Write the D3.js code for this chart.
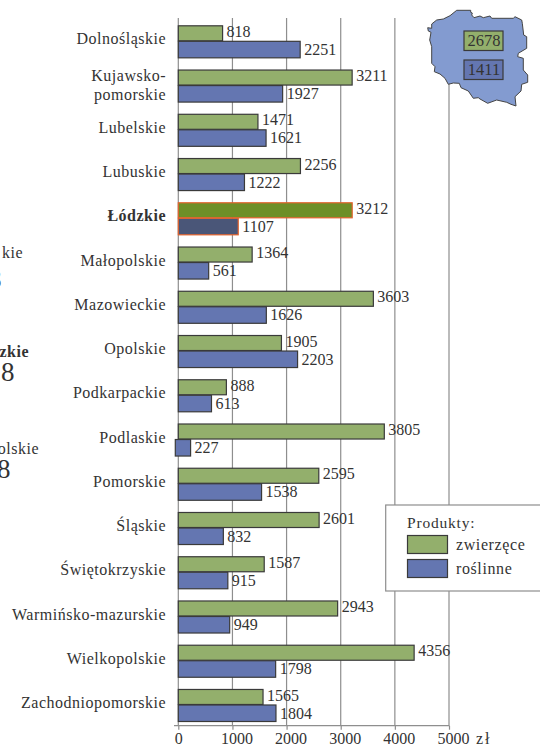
<!DOCTYPE html>
<html>
<head>
<meta charset="utf-8">
<script src="https://cdn.jsdelivr.net/npm/d3@7"></script>
<style>
  html, body { margin: 0; padding: 0; background: #fff; }
  svg { display: block; }
  text { font-family: "Liberation Serif", serif; fill: #333; }
</style>
</head>
<body>
<svg id="chart"></svg>
<script>
const regions = ['Dolnośląskie', 'Kujawsko-\npomorskie', 'Lubelskie', 'Lubuskie', 'Łódzkie', 'Małopolskie',
    'Mazowieckie', 'Opolskie', 'Podkarpackie', 'Podlaskie', 'Pomorskie', 'Śląskie', 'Świętokrzyskie',
    'Warmińsko-mazurskie', 'Wielkopolskie', 'Zachodniopomorskie'];
const zwierzece = [818, 3211, 1471, 2256, 3212, 1364, 3603, 1905, 888, 3805, 2595, 2601, 1587, 2943, 4356, 1565];
const roslinne = [2251, 1927, 1621, 1222, 1107, 561, 1626, 2203, 613, 227, 1538, 832, 915, 949, 1798, 1804];
const xTicks = [0, 1000, 2000, 3000, 4000, 5000];
const highlighted = 'Łódzkie';
const poland = { zwierzece: 2678, roslinne: 1411 };
// outline of the country
const outline = [[456.7,10.3],[470.7,10.3],[470.7,12.3],[472.3,13],[471.7,15],[474,17.7],[480,16],[483.3,17.7],[490,16],[491.7,18.3],
    [513.3,18.3],[515,16.7],[521.7,20],[522.3,23.3],[523.7,35],[526.7,36.7],[526.7,48.3],[518.3,53.3],[517.7,56.7],[523.3,58.3],
    [523.3,70],[527.7,75],[527.7,82.3],[521.7,84.3],[521,91],[515,96.7],[516,106],[511,104.3],[506.7,102.3],[496.7,100],
    [487.7,103.3],[480,99],[478.3,97.7],[473.3,98.3],[468.3,91],[461,87.7],[459.3,83.3],[453.3,83],[448.3,84.3],[445,78.3],
    [440,74],[434.3,71.7],[435,66.7],[431.7,63.3],[431.7,46.7],[429.7,40],[431,32.3],[428.3,31],[427.7,27.7],[431.7,28.3],
    [431.7,24],[436.7,20],[443.3,19],[450,15.7]];
const leftovers = [
    { t: 'kie', x: 23, y: 258, size: 16, bold: false },
    { t: '8', x: 2, y: 288, size: 27, bold: false },
    { t: 'zkie', x: 29, y: 357, size: 16, bold: true },
    { t: '8', x: 15, y: 381, size: 27, bold: false },
    { t: 'olskie', x: 39, y: 454, size: 16, bold: false },
    { t: '8', x: 11, y: 478, size: 27, bold: false }
];

const width = 540, height = 747;
const green = '#93af6c', blue = '#6476b1', mapFill = '#839bd0', edge = '#3a3a3a';

const svg = d3.select('#chart').attr('width', width).attr('height', height);

let x = d3.scaleLinear().domain([0, 5000]).range([178.3, 449]);
let y = d3.scaleBand().domain(regions).range([25.8, 721.5]).paddingInner(0.276);
let y1 = d3.scaleBand().domain(['z', 'r']).range([0, y.bandwidth()]);

// grid
svg.append('g').selectAll('line')
    .data(xTicks)
    .enter().append('line')
    .attr('x1', d => x(d)).attr('x2', d => x(d))
    .attr('y1', 18).attr('y2', 726)
    .attr('stroke', '#8e8e8e')
    .attr('stroke-width', 1.2);

// bottom axis
let axis = svg.append('g')
    .attr('transform', 'translate(0,725.7)')
    .call(d3.axisBottom(x).tickValues(xTicks).tickSize(4).tickSizeOuter(0).tickFormat(d => d));
axis.select('.domain').attr('stroke', '#8e8e8e').attr('stroke-width', 1.2).attr('d', 'M174,0H449');
axis.selectAll('line').attr('stroke', '#8e8e8e').attr('stroke-width', 1.2);
axis.selectAll('text').attr('y', 7).attr('dx', d => d ? 4 : 0).attr('font-size', 16);

svg.append('text').attr('x', 476).attr('y', 744).attr('font-size', 16).attr('letter-spacing', 2).text('zł');

// bars
let rows = regions.map((r, i) => ({ name: r, z: zwierzece[i], r: roslinne[i] }));
let g = svg.append('g').selectAll('g')
    .data(rows)
    .enter().append('g')
    .attr('transform', d => 'translate(0,' + y(d.name) + ')');

g.append('rect')
    .attr('x', x(0))
    .attr('y', y1('z'))
    .attr('width', d => x(d.z) - x(0))
    .attr('height', y1.bandwidth() - 1)
    .attr('fill', d => d.name === highlighted ? '#6d8f27' : green)
    .attr('stroke', d => d.name === highlighted ? '#e2622c' : edge)
    .attr('stroke-width', 1.2);

g.append('rect')
    .attr('x', d => d.name === 'Podlaskie' ? x(0) - 3 : x(0))   // this one sticks out left in the original
    .attr('y', y1('r') - 0.5)
    .attr('width', d => x(d.r) - x(0) + (d.name === 'Podlaskie' ? 3 : 0))
    .attr('height', y1.bandwidth() + 0.5)
    .attr('fill', d => d.name === highlighted ? '#4a5678' : blue)
    .attr('stroke', d => d.name === highlighted ? '#e2622c' : edge)
    .attr('stroke-width', 1.2);

g.append('text')
    .attr('x', d => x(d.z) + 4)
    .attr('y', y1('z') + y1.bandwidth() / 2 - 2)
    .attr('dy', '0.32em')
    .attr('font-size', 16)
    .text(d => d.z);

g.append('text')
    .attr('x', d => x(d.r) + 4)
    .attr('y', y1('r') + y1.bandwidth() / 2)
    .attr('dy', '0.32em')
    .attr('font-size', 16)
    .text(d => d.r);

// region names
let labels = g.append('text')
    .attr('text-anchor', 'end')
    .attr('font-size', 16)
    .attr('letter-spacing', 0.5)
    .attr('font-weight', d => d.name === highlighted ? 'bold' : null)
    .attr('y', y.bandwidth() / 2 + 1);
labels.selectAll('tspan')
    .data(d => d.name.split('\n'))
    .enter().append('tspan')
    .attr('x', 166)
    .attr('dy', function (d, i) {
        let n = d3.select(this.parentNode).datum().name.split('\n').length;
        return i === 0 ? (n > 1 ? '-0.35em' : '0.1em') : '1.15em';
    })
    .text(d => d);

// bits of the neighbouring panel cut by the picture edge
svg.append('g').selectAll('text')
    .data(leftovers)
    .enter().append('text')
    .attr('x', d => d.x)
    .attr('y', d => d.y)
    .attr('text-anchor', 'end')
    .attr('font-size', d => d.size)
    .attr('font-weight', d => d.bold ? 'bold' : null)
    .attr('letter-spacing', 0.5)
    .text(d => d.t);

// map
svg.append('path')
    .attr('d', d3.line()(outline) + 'Z')
    .attr('fill', mapFill)
    .attr('stroke', '#444')
    .attr('stroke-width', 1);

let mapBoxes = svg.append('g').selectAll('g')
    .data([[poland.zwierzece, green, 31], [poland.roslinne, blue, 60]])
    .enter().append('g');
mapBoxes.append('rect')
    .attr('x', 464).attr('y', d => d[2])
    .attr('width', 39).attr('height', 19.5)
    .attr('fill', d => d[1]).attr('stroke', edge).attr('stroke-width', 1.2);
mapBoxes.append('text')
    .attr('x', 484).attr('y', d => d[2] + 10)
    .attr('dy', '0.32em')
    .attr('text-anchor', 'middle')
    .attr('font-size', 16.5)
    .text(d => d[0]);

// legend
let legend = svg.append('g');
legend.append('rect')
    .attr('x', 385.7).attr('y', 505).attr('width', 170).attr('height', 86)
    .attr('fill', '#fff').attr('stroke', '#8e8e8e').attr('stroke-width', 1.2);
legend.append('text').attr('x', 407).attr('y', 528).attr('font-size', 15.5).attr('letter-spacing', 0.8).text('Produkty:');
legend.selectAll('g')
    .data([['zwierzęce', green, 535.5], ['roślinne', blue, 559.5]])
    .enter().append('g')
    .each(function (d) {
        let s = d3.select(this);
        s.append('rect')
            .attr('x', 407.5).attr('y', d[2]).attr('width', 40).attr('height', 18)
            .attr('fill', d[1]).attr('stroke', edge).attr('stroke-width', 1.2);
        s.append('text')
            .attr('x', 456).attr('y', d[2] + 14.5)
            .attr('font-size', 16).attr('letter-spacing', 0.6)
            .text(d[0]);
    });
</script>
</body>
</html>
